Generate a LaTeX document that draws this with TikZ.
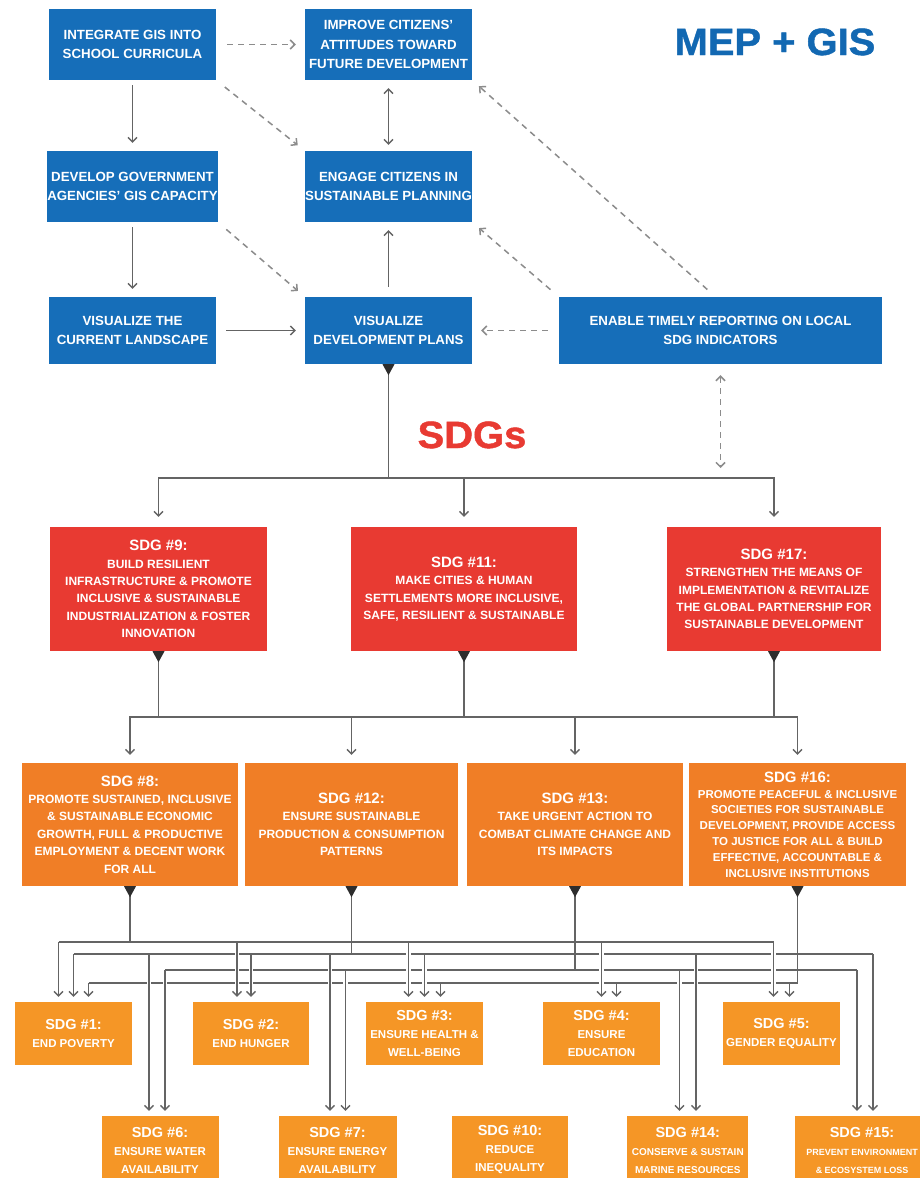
\documentclass[tikz,border=0pt]{standalone}
\usepackage{fontspec}
\setmainfont{Liberation Sans}
\newfontfamily\titlefont{Liberation Sans}[FakeStretch=1.05,FakeBold=1.2]
\usetikzlibrary{arrows.meta,calc}
\definecolor{mblue}{RGB}{22,110,185}
\definecolor{tblue}{RGB}{18,104,178}
\definecolor{mred}{RGB}{232,58,50}
\definecolor{morange}{RGB}{240,126,38}
\definecolor{lorange}{RGB}{245,150,38}
\definecolor{lgray}{RGB}{100,100,100}
\definecolor{dgray}{RGB}{140,140,140}
\definecolor{trig}{RGB}{45,45,45}
\newcommand\sdghd{\fontsize{15}{17.4}\selectfont}
\newcommand\sdghs{\fontsize{14.5}{18}\selectfont}
\begin{document}
\begin{tikzpicture}[x=1pt,y=-1pt,
  cbox/.style={inner sep=0pt, align=center, text=white},
  bluebox/.style={cbox, fill=mblue, minimum width=167pt, minimum height=71pt, font=\bfseries\fontsize{13.3}{19.5}\selectfont},
  redbox/.style={cbox, fill=mred, minimum height=124pt, font=\bfseries\fontsize{12}{17.4}\selectfont},
  obox/.style={cbox, fill=morange, minimum height=123pt, font=\bfseries\fontsize{12}{17.4}\selectfont},
  sbox/.style={cbox, fill=lorange, minimum width=117pt, minimum height=63pt, font=\bfseries\fontsize{11.5}{18}\selectfont},
  tbox/.style={sbox, minimum height=68pt},
  ln/.style={draw=lgray, line width=1.3pt},
  arr/.style={ln, -{Straight Barb[length=4.5pt,width=9pt]}, shorten >=8pt},
  arrboth/.style={ln, {Straight Barb[length=4.5pt,width=9pt]}-{Straight Barb[length=4.5pt,width=9pt]}, shorten >=8pt, shorten <=6pt},
  darr/.style={draw=dgray, line width=1.5pt, dash pattern=on 6pt off 5pt, -{Straight Barb[length=4.5pt,width=9pt]}, shorten >=9pt, shorten <=11pt},
  darrboth/.style={draw=dgray, line width=1.5pt, dash pattern=on 6pt off 5pt, {Straight Barb[length=4.5pt,width=9pt]}-{Straight Barb[length=4.5pt,width=9pt]}, shorten >=9pt, shorten <=11pt},
  halo/.style={preaction={draw=white, line width=4.5pt, -, shorten <=3pt, shorten >=9pt}},
  barr/.style={arr, shorten >=5pt, halo}
]
\useasboundingbox (0,0) rectangle (920,1178);
\clip (0,0) rectangle (920,1178);
\fill[white] (0,0) rectangle (920,1178);

% titles
\node[anchor=base, text=tblue, font=\titlefont\bfseries\fontsize{38}{40}\selectfont] (title) at (775,55) {MEP + GIS};
\node[anchor=base, text=mred, font=\titlefont\bfseries\fontsize{38}{40}\selectfont] (sdgs) at (472,448) {SDGs};

% blue boxes
\node[bluebox] (b1) at (132.5,44.5) {INTEGRATE GIS INTO\\SCHOOL CURRICULA};
\node[bluebox] (b2) at (388.5,44.5) {IMPROVE CITIZENS'\\ATTITUDES TOWARD\\FUTURE DEVELOPMENT};
\node[bluebox] (b3) at (132.5,186.5) {DEVELOP GOVERNMENT\\AGENCIES' GIS CAPACITY};
\node[bluebox] (b4) at (388.5,186.5) {ENGAGE CITIZENS IN\\SUSTAINABLE PLANNING};
\node[bluebox, minimum height=67pt] (b5) at (132.5,330.5) {VISUALIZE THE\\CURRENT LANDSCAPE};
\node[bluebox, minimum height=67pt] (b6) at (388.5,330.5) {VISUALIZE\\DEVELOPMENT PLANS};
\node[bluebox, minimum height=67pt, minimum width=323pt] (b7) at (720.5,330.5) {ENABLE TIMELY REPORTING ON LOCAL\\SDG INDICATORS};

% red boxes
\node[redbox, minimum width=217pt] (r9) at (158.5,589) {{\sdghd SDG \#9:}\\BUILD RESILIENT\\INFRASTRUCTURE \& PROMOTE\\INCLUSIVE \& SUSTAINABLE\\INDUSTRIALIZATION \& FOSTER\\INNOVATION};
\node[redbox, minimum width=226pt] (r11) at (464,589) {{\sdghd SDG \#11:}\\MAKE CITIES \& HUMAN\\SETTLEMENTS MORE INCLUSIVE,\\SAFE, RESILIENT \& SUSTAINABLE};
\node[redbox, minimum width=214pt] (r17) at (774,589) {{\sdghd SDG \#17:}\\STRENGTHEN THE MEANS OF\\IMPLEMENTATION \& REVITALIZE\\THE GLOBAL PARTNERSHIP FOR\\SUSTAINABLE DEVELOPMENT};

% orange row 1
\node[obox, minimum width=216pt] (o8) at (130,824.5) {{\sdghd SDG \#8:}\\PROMOTE SUSTAINED, INCLUSIVE\\\& SUSTAINABLE ECONOMIC\\GROWTH, FULL \& PRODUCTIVE\\EMPLOYMENT \& DECENT WORK\\FOR ALL};
\node[obox, minimum width=213pt] (o12) at (351.5,824.5) {{\sdghd SDG \#12:}\\ENSURE SUSTAINABLE\\PRODUCTION \& CONSUMPTION\\PATTERNS};
\node[obox, minimum width=216pt] (o13) at (575,824.5) {{\sdghd SDG \#13:}\\TAKE URGENT ACTION TO\\COMBAT CLIMATE CHANGE AND\\ITS IMPACTS};
\node[obox, minimum width=217pt, font=\bfseries\fontsize{11.5}{15.8}\selectfont] (o16) at (797.5,824.5) {{\sdghd SDG \#16:}\\PROMOTE PEACEFUL \& INCLUSIVE\\SOCIETIES FOR SUSTAINABLE\\DEVELOPMENT, PROVIDE ACCESS\\TO JUSTICE FOR ALL \& BUILD\\EFFECTIVE, ACCOUNTABLE \&\\INCLUSIVE INSTITUTIONS};

% orange row 2
\node[sbox] (s1) at (73.5,1033.5) {{\sdghs SDG \#1:}\\END POVERTY};
\node[sbox, minimum width=116pt] (s2) at (251,1033.5) {{\sdghs SDG \#2:}\\END HUNGER};
\node[sbox] (s3) at (424.5,1033.5) {{\sdghs SDG \#3:}\\ENSURE HEALTH \&\\WELL-BEING};
\node[sbox] (s4) at (601.5,1033.5) {{\sdghs SDG \#4:}\\ENSURE\\EDUCATION};
\node[sbox] (s5) at (781.5,1033.5) {{\sdghs SDG \#5:}\\GENDER EQUALITY};

% orange row 3
\node[tbox] (s6) at (160,1150) {{\sdghs SDG \#6:}\\ENSURE WATER\\AVAILABILITY};
\node[tbox, minimum width=118pt] (s7) at (337.5,1150) {{\sdghs SDG \#7:}\\ENSURE ENERGY\\AVAILABILITY};
\node[tbox, minimum width=116pt] (s10) at (510,1150) {{\sdghs SDG \#10:}\\REDUCE\\INEQUALITY};
\node[tbox, minimum width=121pt, font=\bfseries\fontsize{10}{18}\selectfont] (s14) at (687.8,1150) {{\sdghs SDG \#14:}\\CONSERVE \& SUSTAIN\\MARINE RESOURCES};
\node[tbox, minimum width=134pt, font=\bfseries\fontsize{9}{18}\selectfont] (s15) at (862,1150) {{\sdghs SDG \#15:}\\PREVENT ENVIRONMENT\\\& ECOSYSTEM LOSS};

% top connectors
\draw[arr, shorten <=5pt] (b1) -- (b3);
\draw[arr, shorten <=5pt] (b3) -- (b5);
\draw[arr, shorten <=10pt, shorten >=9pt] (b5) -- (b6);
\draw[arr, shorten <=10pt] (b6) -- (b4);
\draw[arrboth] (b4) -- (b2);
\draw[darr] (b1) -- (b2);
\draw[darr] (b1.south east) -- (b4.north west);
\draw[darr] (b3.south east) -- (b6.north west);
\draw[darr] (b7) -- (b6);
\draw[darr] (b7.north west) -- (b4.south east);
\draw[darr] ([xshift=-5pt]b7.north) -- (b2.south east);

% blue -> red
\coordinate (busR) at (722,478);
\draw[darrboth, shorten <=11pt, shorten >=10pt] (b7.south) -- (b7.south |- busR);
\draw[ln] (b6.south) -- (b6.south |- busR) coordinate (busM);
\draw[arr, shorten >=10pt] (busM) -| (r9.north);
\draw[arr, shorten >=10pt] (busM) -| (r17.north);
\draw[arr, shorten >=10pt] (r11.north |- busM) -- (r11.north);

% red -> orange
\coordinate (busO) at (0,717);
\draw[ln] (r9.south) -- (r9.south |- busO);
\draw[ln] (r11.south) -- (r11.south |- busO);
\draw[ln] (r17.south) -- (r17.south |- busO);
\draw[arr] (r9.south |- busO) -| (o8.north);
\draw[arr] (r9.south |- busO) -| (o16.north);
\draw[arr] (o12.north |- busO) -- (o12.north);
\draw[arr] (o13.north |- busO) -- (o13.north);

% orange row 1 -> rows 2 and 3
\draw[ln] (o8.south) -- (o8.south |- 0,942);
\draw[ln] (o12.south) -- (o12.south |- 0,954);
\draw[ln] (o13.south) -- (o13.south |- 0,970);
\draw[ln] (o16.south) -- (o16.south |- 0,983);
\draw[ln] (58.5,942) -- (773.5,942);
\draw[ln] (73.5,954) -- (873,954);
\draw[ln] (165,970) -- (857,970);
\draw[ln] (88.5,983) -- (797.5,983);
\foreach \xx/\yy/\t in {58.5/942/s1, 237/942/s2, 408.5/942/s3, 601.5/942/s4, 773.5/942/s5,
  73.5/954/s1, 251/954/s2, 424.5/954/s3, 149/954/s6, 330/954/s7, 696/954/s14, 873/954/s15,
  165/970/s6, 345.5/970/s7, 679.5/970/s14, 857/970/s15,
  88.5/983/s1, 440.5/983/s3, 616.5/983/s4, 789.5/983/s5}
  \draw[barr] (\xx,\yy) -- (\t.north -| \xx,0);

% triangle markers
\foreach \n in {b6,r9,r11,r17,o8,o12,o13,o16}
  \fill[trig] (\n.south) ++(-6,0) -- ++(12,0) -- ++(-6,11) -- cycle;
\end{tikzpicture}
\end{document}
